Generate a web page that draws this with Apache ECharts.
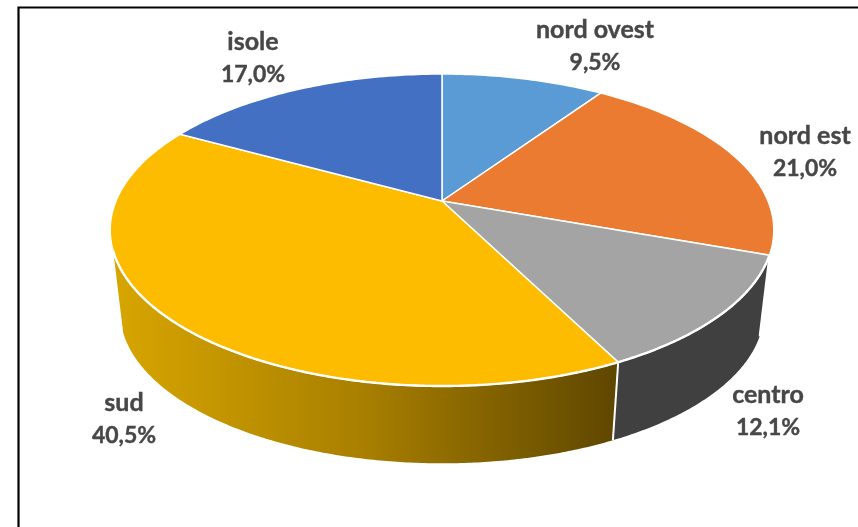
<!DOCTYPE html>
<html>
<head>
<meta charset="utf-8">
<style>html,body{margin:0;padding:0;background:#fff}#c{width:858px;height:527px}</style>
<script src="https://cdn.jsdelivr.net/npm/echarts@6/dist/echarts.min.js"></script>
</head>
<body>
<div id="c"></div>
<script>
const categories = ['nord ovest', 'nord est', 'centro', 'sud', 'isole'];
const values = [9.5, 21.0, 12.1, 40.5, 17.0];

const faceColors = ['#5B9BD5', '#EB7B30', '#A4A4A4', '#FDBC00', '#4370C2'];
const wallFills = [null, null, '#404040',
  {type: 'linear', x: 110, y: 0, x2: 618, y2: 0, global: true,
    colorStops: [{offset: 0, color: '#D8A600'}, {offset: 0.5, color: '#A87F00'}, {offset: 1, color: '#5E4600'}]},
  null];
const labelAnchors = [[595, 46], [805, 152], [768, 411], [124, 419], [253, 58]];

// Projection of the pie's disc with perspective
const apex = {x: 442, y: 201};
const persp = {a: 326, b: 150.6, k: -0.186};
const rim = {cy: 230, dropCy: 312, scale: 0.97, visibleFromY: 251};
function topPoint(deg) {
  const t = deg * Math.PI / 180, u = Math.sin(t), v = -Math.cos(t), d = 1 + persp.k * v;
  return [apex.x + persp.a * u / d, apex.y + persp.b * v / d];
}
function bottomPoint(deg) {
  const p = topPoint(deg);
  return [apex.x + rim.scale * (p[0] - apex.x), rim.dropCy + rim.scale * (p[1] - rim.cy)];
}
const total = values.reduce((s, v) => s + v, 0);
function span(i) {
  let before = 0;
  for (let j = 0; j < i; j++) before += values[j];
  return [before / total * 360, (before + values[i]) / total * 360];
}
function visibleDegrees(i) {
  const [s, e] = span(i), out = [];
  for (let d = s; d < e; d += 0.5) {
    if (topPoint(d)[1] >= rim.visibleFromY) out.push(d);
  }
  if (topPoint(e)[1] >= rim.visibleFromY) out.push(e);
  return out;
}

function renderWall(params) {
  const i = params.dataIndex, fill = wallFills[i];
  if (!fill) return {type: 'group', children: []};
  const degs = visibleDegrees(i);
  const pts = degs.map(topPoint).concat(degs.slice().reverse().map(bottomPoint));
  const s = span(i)[0];
  return {type: 'group', silent: true, children: [
    {type: 'polygon', shape: {points: pts}, style: {fill: fill}},
    {type: 'line', z2: 5,
     shape: {x1: topPoint(s)[0], y1: topPoint(s)[1], x2: bottomPoint(s)[0], y2: bottomPoint(s)[1]},
     style: {stroke: '#fff', lineWidth: 2}}
  ]};
}

function renderFace(params) {
  const i = params.dataIndex, [s, e] = span(i), pts = [[apex.x, apex.y]];
  for (let d = s; d < e; d += 1) pts.push(topPoint(d));
  pts.push(topPoint(e));
  return {type: 'polygon', shape: {points: pts}, silent: true,
    style: {fill: faceColors[i], stroke: '#fff', lineWidth: 1.5}};
}

function renderRim(params) {
  const i = params.dataIndex;
  if (!wallFills[i]) return {type: 'group', children: []};
  return {type: 'polyline', silent: true, shape: {points: visibleDegrees(i).map(topPoint)},
    style: {stroke: '#fff', lineWidth: 2.4, fill: 'none'}};
}

function renderLabel(params, api) {
  const i = params.dataIndex, pos = labelAnchors[i];
  const shared = {fontFamily: 'Lato', fontWeight: 'bold', fill: '#474747', stroke: '#474747', lineWidth: 0.4, lineHeight: 33, align: 'center'};
  return {type: 'text', x: pos[0], y: pos[1], silent: true,
    style: {text: '{n|' + categories[i] + '}\n{p|' + api.value(0).toFixed(1).replace('.', ',') + '%}',
      align: 'center', verticalAlign: 'middle',
      rich: {n: Object.assign({fontSize: 25}, shared), p: Object.assign({fontSize: 23}, shared)}}};
}

const chart = echarts.init(document.getElementById('c'), null, {renderer: 'canvas'});
chart.setOption({
  animation: false,
  backgroundColor: '#fff',
  graphic: [
    {type: 'polyline', silent: true, z: 10,
     shape: {points: [[18.5, 527], [18.5, 7.5], [858, 7.5]]},
     style: {stroke: '#000', lineWidth: 2.2, fill: 'none'}}
  ],
  series: [
    {type: 'custom', coordinateSystem: 'none', z: 1, clip: false, data: values, renderItem: renderWall},
    {type: 'custom', coordinateSystem: 'none', z: 2, clip: false, data: values, renderItem: renderFace},
    {type: 'custom', coordinateSystem: 'none', z: 3, clip: false, data: values, renderItem: renderRim},
    {type: 'custom', coordinateSystem: 'none', z: 4, clip: false, data: values, renderItem: renderLabel}
  ]
});
</script>
</body>
</html>
